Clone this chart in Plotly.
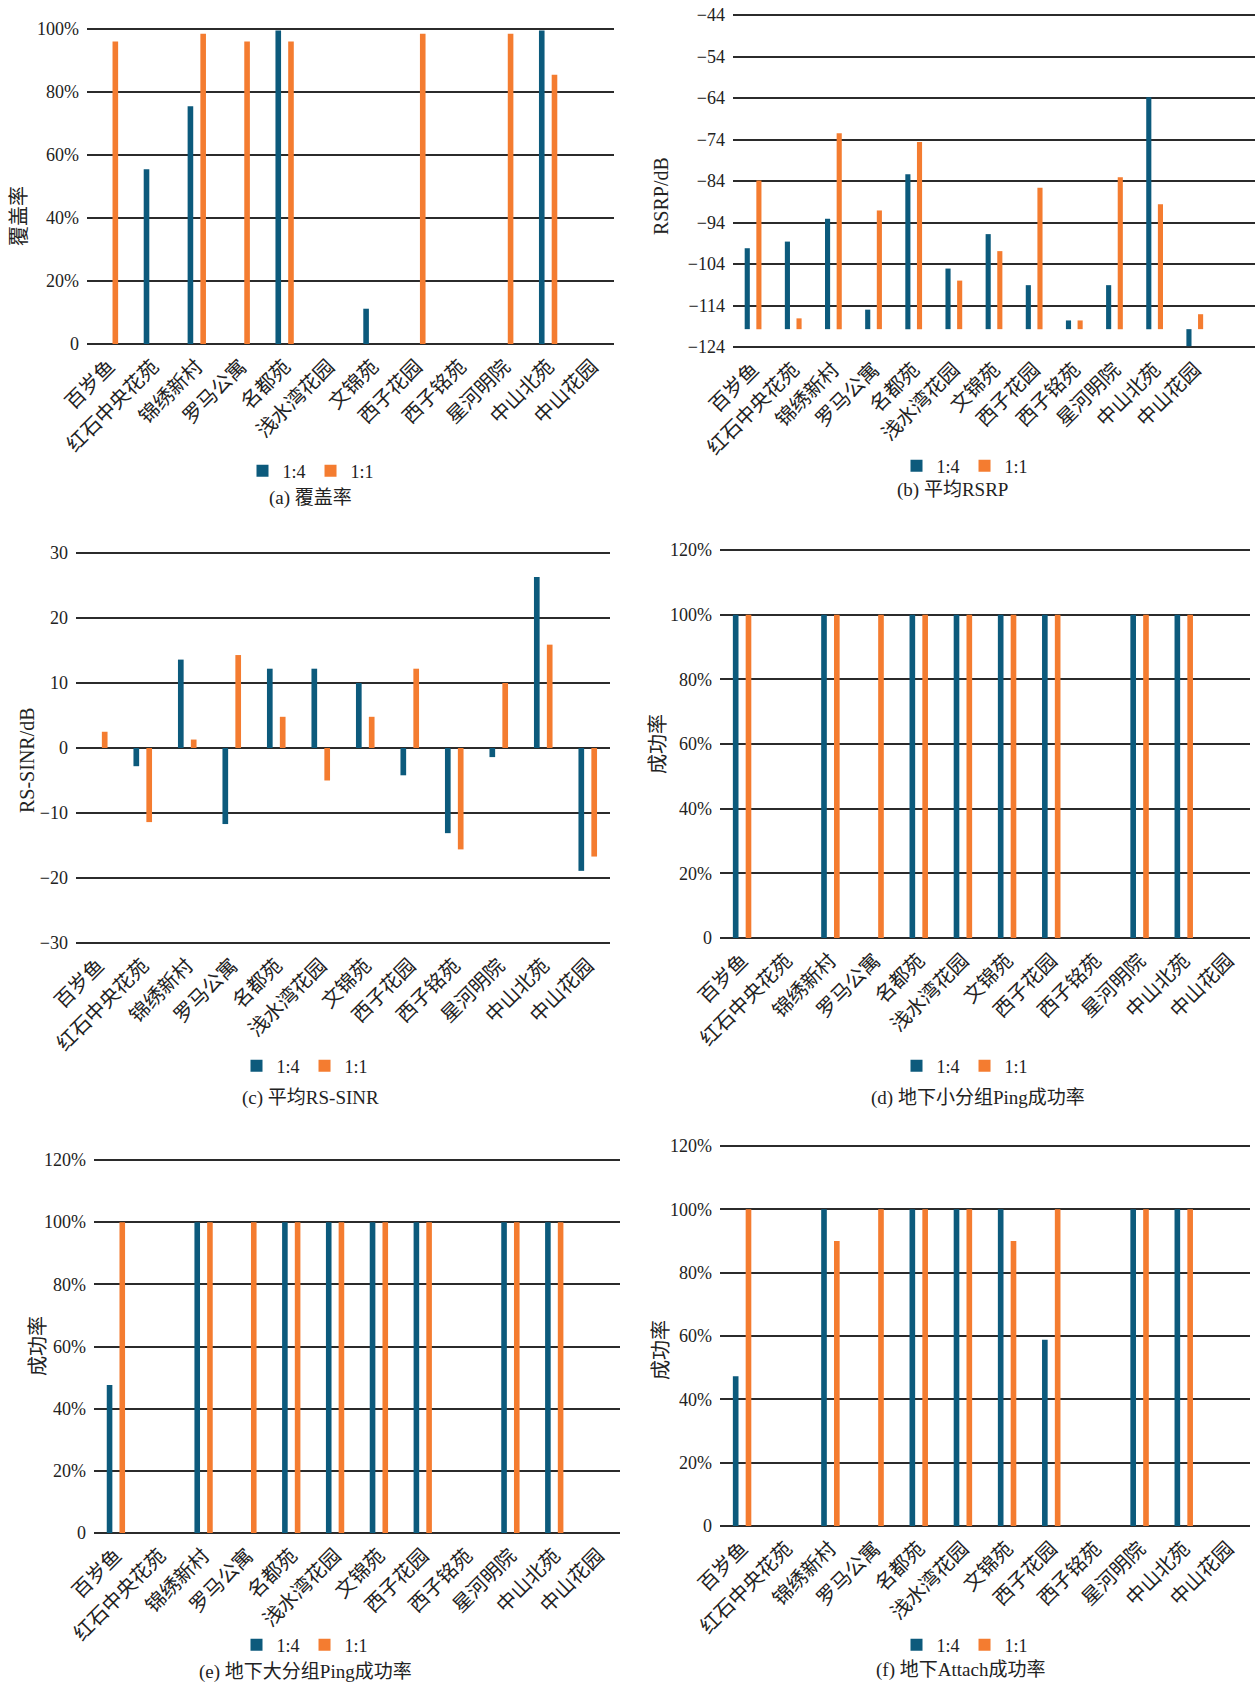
import plotly.graph_objects as go
import numpy as np

W, H = 1257, 1686

categories = ["百岁鱼", "红石中央花苑", "锦绣新村", "罗马公寓", "名都苑", "浅水湾花园",
              "文锦苑", "西子花园", "西子铭苑", "星河明院", "中山北苑", "中山花园"]
series_names = ["1:4", "1:1"]

# (a) coverage, %
coverage_14 = [0, 55.5, 75.5, 0, 99.5, 0, 11.2, 0, 0, 0, 99.5, 0]
coverage_11 = [96, 0, 98.5, 96, 96, 0, 0, 98.5, 0, 98.5, 85.5, 0]

# (b) mean RSRP, dB
rsrp_14 = [-100.2, -98.6, -93.1, -115.0, -82.4, -105.1, -96.8, -109.1, -117.6, -109.1, -63.8, -123.8]
rsrp_11 = [-83.9, -117.1, -72.5, -91.1, -74.6, -108.0, -100.9, -85.6, -117.6, -83.1, -89.6, -116.1]
rsrp_base = -119.7

# (c) mean RS-SINR, dB
sinr_14 = [0, -2.8, 13.6, -11.7, 12.2, 12.2, 10.0, -4.2, -13.1, -1.4, 26.3, -18.9]
sinr_11 = [2.5, -11.4, 1.3, 14.3, 4.8, -5.0, 4.8, 12.2, -15.6, 10.0, 15.9, -16.7]

# (d) underground small-packet ping success, %
ping_small_14 = [100, 0, 100, 0, 100, 100, 100, 100, 0, 100, 100, 0]
ping_small_11 = [100, 0, 100, 100, 100, 100, 100, 100, 0, 100, 100, 0]

# (e) underground large-packet ping success, %
ping_big_14 = [47.6, 0, 100, 0, 100, 100, 100, 100, 0, 100, 100, 0]
ping_big_11 = [100, 0, 100, 100, 100, 100, 100, 100, 0, 100, 100, 0]

# (f) underground attach success, %
attach_14 = [47.3, 0, 100, 0, 100, 100, 100, 58.8, 0, 100, 100, 0]
attach_11 = [100, 0, 90, 100, 100, 100, 90, 100, 0, 100, 100, 0]

pct100_vals = [0, 20, 40, 60, 80, 100]
pct100_text = ["0", "20%", "40%", "60%", "80%", "100%"]
pct120_vals = [0, 20, 40, 60, 80, 100, 120]
pct120_text = ["0", "20%", "40%", "60%", "80%", "100%", "120%"]
rsrp_vals = [-124, -114, -104, -94, -84, -74, -64, -54, -44]
rsrp_text = ["\u2212124", "\u2212114", "\u2212104", "\u221294", "\u221284", "\u221274", "\u221264", "\u221254", "\u221244"]
sinr_vals = [-30, -20, -10, 0, 10, 20, 30]
sinr_text = ["\u221230", "\u221220", "\u221210", "0", "10", "20", "30"]

BLUE = "#0c5a7c"
ORANGE = "#f47c30"
FONT = "Liberation Serif, Noto Sans CJK SC, serif"
TXT = "#222222"

panels = [
    dict(s14=coverage_14, s11=coverage_11, base=None, px=(87, 614), py=(29, 344),
         yr=[0, 100], tv=pct100_vals, tt=pct100_text, xr=[-0.5, 11.5],
         ytitle="覆盖率", yt=(19, 216), leg=(311, 471), cap="(a) 覆盖率", cp=(310, 498)),
    dict(s14=rsrp_14, s11=rsrp_11, base=rsrp_base, px=(733, 1255), py=(15, 347),
         yr=[-124, -44], tv=rsrp_vals, tt=rsrp_text, xr=[-0.5, 12.5],
         ytitle="RSRP/dB", yt=(661, 196), leg=(965, 466), cap="(b) 平均RSRP", cp=(952, 490)),
    dict(s14=sinr_14, s11=sinr_11, base=None, px=(76, 610), py=(553, 943),
         yr=[-30, 30], tv=sinr_vals, tt=sinr_text, xr=[-0.5, 11.5],
         ytitle="RS-SINR/dB", yt=(27, 760), leg=(305, 1066), cap="(c) 平均RS-SINR", cp=(310, 1098)),
    dict(s14=ping_small_14, s11=ping_small_11, base=None, px=(720, 1250), py=(550, 938),
         yr=[0, 120], tv=pct120_vals, tt=pct120_text, xr=[-0.5, 11.5],
         ytitle="成功率", yt=(658, 744), leg=(965, 1066), cap="(d) 地下小分组Ping成功率", cp=(978, 1098)),
    dict(s14=ping_big_14, s11=ping_big_11, base=None, px=(94, 620), py=(1160, 1533),
         yr=[0, 120], tv=pct120_vals, tt=pct120_text, xr=[-0.5, 11.5],
         ytitle="成功率", yt=(38, 1346), leg=(305, 1645), cap="(e) 地下大分组Ping成功率", cp=(305, 1672)),
    dict(s14=attach_14, s11=attach_11, base=None, px=(720, 1250), py=(1146, 1526),
         yr=[0, 120], tv=pct120_vals, tt=pct120_text, xr=[-0.5, 11.5],
         ytitle="成功率", yt=(661, 1350), leg=(965, 1645), cap="(f) 地下Attach成功率", cp=(960, 1670)),
]

fig = go.Figure()
annotations = []
layout = dict(
    width=W, height=H, margin=dict(l=0, r=0, t=0, b=0),
    paper_bgcolor="white", plot_bgcolor="white",
    barmode="group", bargap=0.42, bargroupgap=0.56,
    font=dict(family=FONT, size=18, color=TXT),
)

PAD_PX = 2.0  # small extension so the gridlines at the range ends are drawn

for i, p in enumerate(panels):
    n = "" if i == 0 else str(i + 1)
    xa, ya = "x" + n, "y" + n
    lg = "legend" + n
    for name, vals, col in ((series_names[0], p["s14"], BLUE), (series_names[1], p["s11"], ORANGE)):
        v = np.array(vals, dtype=float)
        kw = {}
        if p["base"] is not None:
            kw["base"] = p["base"]
            v = v - p["base"]
        fig.add_trace(go.Bar(
            x=categories, y=v, name=name, xaxis=xa, yaxis=ya, legend=lg,
            marker=dict(color=col, line=dict(width=0)), showlegend=True,
            hoverinfo="skip", **kw))
    x0, x1 = p["px"]
    y0, y1 = p["py"]
    lo, hi = p["yr"]
    pad = (hi - lo) * PAD_PX / (y1 - y0)
    y0p, y1p = y0 - PAD_PX, y1 + PAD_PX
    layout["xaxis" + n] = dict(
        domain=[x0 / W, x1 / W], anchor=ya, type="category", range=p["xr"],
        tickangle=-45, showgrid=False, showline=False, zeroline=False, ticks="",
        ticklabelstandoff=4,
        tickfont=dict(family=FONT, size=20, color=TXT), automargin=False)
    layout["yaxis" + n] = dict(
        domain=[1 - y1p / H, 1 - y0p / H], anchor=xa, range=[lo - pad, hi + pad],
        tickmode="array", tickvals=p["tv"], ticktext=p["tt"],
        showgrid=True, gridcolor="#2b2b2b", gridwidth=1.6,
        showline=False, zeroline=False, ticks="", ticklabelstandoff=7,
        tickfont=dict(family=FONT, size=18, color=TXT), automargin=False)
    layout[lg] = dict(
        orientation="h", x=p["leg"][0] / W, y=1 - p["leg"][1] / H,
        xanchor="center", yanchor="middle", bgcolor="rgba(0,0,0,0)",
        font=dict(family=FONT, size=18, color=TXT), itemwidth=30,
        traceorder="normal")
    annotations.append(dict(
        text=p["ytitle"], xref="paper", yref="paper",
        x=p["yt"][0] / W, y=1 - p["yt"][1] / H, xanchor="center", yanchor="middle",
        textangle=-90, showarrow=False, font=dict(family=FONT, size=20, color=TXT)))
    annotations.append(dict(
        text=p["cap"], xref="paper", yref="paper",
        x=p["cp"][0] / W, y=1 - p["cp"][1] / H, xanchor="center", yanchor="middle",
        showarrow=False, font=dict(family=FONT, size=19, color=TXT)))

layout["annotations"] = annotations
fig.update_layout(**layout)

fig.write_html("out.html", config={"displayModeBar": False},
               post_script="document.body.style.margin='0';")
